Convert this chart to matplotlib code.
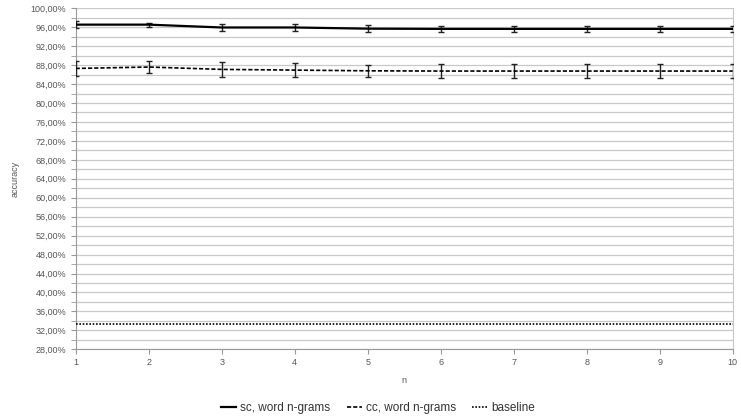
import numpy as np
import matplotlib.pyplot as plt
from matplotlib.lines import Line2D
from matplotlib.ticker import FuncFormatter, MultipleLocator

n = [1, 2, 3, 4, 5, 6, 7, 8, 9, 10]
sc_acc = [96.55, 96.55, 95.95, 95.95, 95.7, 95.65, 95.65, 95.65, 95.65, 95.65]
sc_err = [0.7, 0.45, 0.8, 0.7, 0.75, 0.7, 0.7, 0.7, 0.7, 0.7]
cc_acc = [87.3, 87.6, 87.1, 86.95, 86.8, 86.75, 86.75, 86.75, 86.75, 86.75]
cc_err = [1.55, 1.3, 1.5, 1.4, 1.3, 1.55, 1.55, 1.55, 1.55, 1.55]
baseline = [33.33] * 10

plt.rcParams['font.family'] = ['Liberation Sans', 'DejaVu Sans']

fig = plt.figure(figsize=(7.41, 4.18), dpi=100)
ax = fig.add_axes([75.7 / 741, 1 - 349.3 / 418, (732.7 - 75.7) / 741, (349.3 - 8.3) / 418])

sc_ls = '-'
cc_ls = (0, (2.5, 1.2))
bl_ls = (0, (1, 1))

ax.errorbar(n, sc_acc, yerr=sc_err, color='black', lw=1.6, ls=sc_ls,
            ecolor='#222222', elinewidth=1.0, capsize=2.2, capthick=1.0, zorder=3)
ax.errorbar(n, cc_acc, yerr=cc_err, color='black', lw=1.2, ls=cc_ls,
            ecolor='#222222', elinewidth=1.0, capsize=2.2, capthick=1.0, zorder=3)
ax.plot(n, baseline, color='black', lw=1.2, ls=bl_ls, zorder=3)

ax.set_xlim(1, 10)
ax.set_ylim(28, 100)
ax.set_xticks(n)
ax.yaxis.set_major_locator(MultipleLocator(4))
ax.yaxis.set_minor_locator(MultipleLocator(2))
ax.yaxis.set_major_formatter(FuncFormatter(lambda v, p: f'{v:.2f}%'.replace('.', ',')))
ax.grid(axis='y', which='both', color='#c8c8c8', lw=0.9)
ax.set_axisbelow(True)

ax.spines['top'].set_visible(False)
ax.spines['right'].set_color('#c8c8c8')
ax.spines['left'].set_color('#999999')
ax.spines['bottom'].set_color('#999999')

ax.tick_params(axis='both', which='both', labelsize=6.5, colors='#999999',
               labelcolor='#555555', length=3.5)
ax.tick_params(axis='x', pad=3)

ax.set_xlabel('n', fontsize=6.5, color='#555555', labelpad=6)
ax.set_ylabel('accuracy', fontsize=6.5, color='#555555', labelpad=8)

handles = [Line2D([], [], color='black', lw=1.6, ls=sc_ls),
           Line2D([], [], color='black', lw=1.2, ls=cc_ls),
           Line2D([], [], color='black', lw=1.2, ls=bl_ls)]
labels = ['sc, word n-grams', 'cc, word n-grams', 'baseline']
fig.legend(handles, labels, loc='center', bbox_to_anchor=(378 / 741, 1 - 407.7 / 418),
           ncol=3, frameon=False, fontsize=8.5, handlelength=1.3, handletextpad=0.3,
           columnspacing=1.4, labelcolor='#333333')

fig.savefig('out.png', dpi=100)
